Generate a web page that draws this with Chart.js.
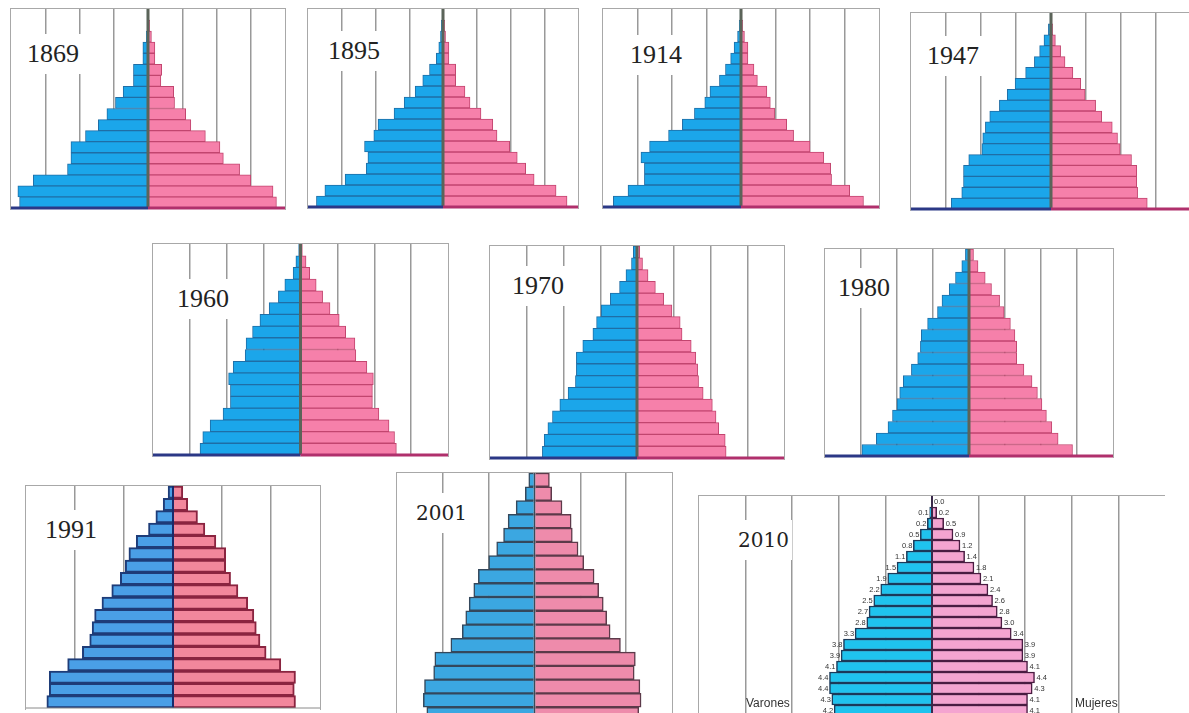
<!DOCTYPE html>
<html>
<head>
<meta charset="utf-8">
<script src="https://cdn.jsdelivr.net/npm/chart.js@4.4.1/dist/chart.umd.min.js"></script>
<style>
    html, body { margin: 0; padding: 0; background: #fff; }
    body { width: 1189px; height: 713px; overflow: hidden; position: relative; }
    .box { position: absolute; box-sizing: border-box; border: 1px solid #a8a8a8; border-bottom: none; }
    .box canvas { display: block; }
    .year { position: absolute; background: #fff; font-family: "Liberation Serif", serif; font-size: 26px;
            line-height: 24px; padding: 8px 3px; color: #222; }
    .year.wide { font-family: "DejaVu Serif", serif; font-size: 20px; }
    .sex { position: absolute; font-family: "Liberation Sans", Arial, sans-serif; font-size: 12px; color: #333; }
</style>
</head>
<body>
<script>
// grupos de edad, de menor a mayor
const ages = ['0-4', '5-9', '10-14', '15-19', '20-24', '25-29', '30-34', '35-39', '40-44',
    '45-49', '50-54', '55-59', '60-64', '65-69', '70-74', '75-79', '80-84', '85+'];
const ages2010 = ['5-9', '10-14', '15-19', '20-24', '25-29', '30-34', '35-39', '40-44', '45-49',
    '50-54', '55-59', '60-64', '65-69', '70-74', '75-79', '80-84', '85-89', '90-94', '95-99', '100+'];

// % de la poblacion por sexo
const m1869 = [7.5, 7.6, 6.7, 4.7, 4.5, 4.5, 3.65, 2.9, 2.4, 1.9, 1.45, 0.85, 0.85, 0.3, 0.3, 0.1, 0.05, 0.05];
const f1869 = [7.5, 7.3, 6.0, 5.35, 4.4, 4.2, 3.35, 2.5, 2.2, 1.55, 1.5, 0.75, 0.8, 0.4, 0.4, 0.2, 0.1, 0.05];
const m1895 = [7.5, 7.0, 5.8, 4.55, 4.45, 4.65, 4.1, 3.85, 2.9, 2.3, 1.65, 1.2, 0.8, 0.4, 0.25, 0.15, 0.1, 0.05];
const f1895 = [7.35, 6.7, 5.4, 4.9, 4.4, 3.95, 3.2, 2.95, 2.25, 1.6, 1.3, 0.75, 0.75, 0.35, 0.35, 0.15, 0.1, 0.05];
const m1914 = [7.4, 6.55, 5.6, 5.6, 5.8, 5.3, 4.2, 3.4, 2.7, 2.1, 1.8, 1.25, 0.9, 0.6, 0.4, 0.2, 0.1, 0.05];
const f1914 = [7.1, 6.3, 5.25, 5.2, 4.8, 4.0, 3.05, 2.65, 1.95, 1.7, 1.5, 0.95, 0.75, 0.4, 0.4, 0.2, 0.1, 0.05];
const m1947 = [5.7, 5.1, 5.0, 5.0, 4.7, 3.95, 3.9, 3.75, 3.5, 2.95, 2.5, 2.05, 1.45, 0.95, 0.65, 0.4, 0.15, 0.05];
const f1947 = [5.5, 4.95, 4.9, 4.9, 4.6, 3.95, 3.8, 3.5, 2.9, 2.55, 1.95, 1.7, 1.25, 0.8, 0.55, 0.25, 0.1, 0.05];
const m1960 = [5.45, 5.3, 4.9, 4.2, 3.8, 3.8, 3.9, 3.65, 3.0, 2.95, 2.6, 2.2, 1.7, 1.2, 0.85, 0.4, 0.25, 0.1];
const f1960 = [5.2, 5.1, 4.8, 4.25, 3.9, 3.9, 3.95, 3.6, 3.0, 2.95, 2.45, 2.1, 1.6, 1.2, 0.85, 0.5, 0.3, 0.1];
const m1970 = [5.15, 5.05, 4.85, 4.6, 4.2, 3.75, 3.35, 3.3, 3.3, 2.95, 2.4, 2.2, 1.95, 1.45, 0.95, 0.6, 0.3, 0.2];
const f1970 = [4.85, 4.8, 4.45, 4.3, 4.1, 3.6, 3.35, 3.3, 3.2, 2.95, 2.45, 2.35, 1.9, 1.45, 1.0, 0.6, 0.3, 0.15];
const m1980 = [5.95, 5.15, 4.5, 4.25, 4.0, 3.85, 3.65, 3.2, 2.85, 2.7, 2.65, 2.3, 1.75, 1.5, 1.1, 0.75, 0.4, 0.2];
const f1980 = [5.75, 4.95, 4.6, 4.3, 4.05, 3.8, 3.5, 3.05, 2.65, 2.65, 2.55, 2.3, 1.95, 1.7, 1.25, 0.9, 0.5, 0.25];
const m1991 = [5.15, 5.05, 5.05, 4.3, 3.7, 3.4, 3.3, 3.2, 2.9, 2.5, 2.15, 1.95, 1.8, 1.5, 1.0, 0.7, 0.4, 0.2];
const f1991 = [5.0, 4.95, 5.0, 4.4, 3.8, 3.55, 3.4, 3.3, 3.05, 2.65, 2.35, 2.15, 2.15, 1.75, 1.3, 1.0, 0.6, 0.4];
const m2001 = [4.7, 4.85, 4.8, 4.4, 4.35, 3.65, 3.15, 3.0, 2.85, 2.65, 2.45, 2.0, 1.65, 1.35, 1.15, 0.8, 0.4, 0.25];
const f2001 = [4.55, 4.65, 4.6, 4.35, 4.4, 3.75, 3.3, 3.15, 3.0, 2.8, 2.6, 2.15, 1.9, 1.65, 1.6, 1.2, 0.75, 0.65];
const m2010 = [4.2, 4.3, 4.4, 4.4, 4.1, 3.9, 3.8, 3.3, 2.8, 2.7, 2.5, 2.2, 1.9, 1.5, 1.1, 0.8, 0.5, 0.2, 0.1, 0.0];
const f2010 = [4.1, 4.1, 4.3, 4.4, 4.1, 3.9, 3.9, 3.4, 3.0, 2.8, 2.6, 2.4, 2.1, 1.8, 1.4, 1.2, 0.9, 0.5, 0.2, 0.0];

// estilos
const oldStyle = {
    blue: '#1ba6ea', blueEdge: '#1f6ea6', pink: '#f680aa', pinkEdge: '#c2456f', bw: 1,
    grid: '#999999', center: '#5b6459', cw: 3, baseL: '#2b3886', baseR: '#b0306c', baseW: 3
};
const st1991 = {
    blue: '#4a9fe6', blueEdge: '#1e3c78', pink: '#f2879c', pinkEdge: '#8a2440', bw: 2,
    grid: '#999999', center: '#1a2a6a', cw: 2, baseL: '#8a8a8a', baseR: '#8a8a8a', baseW: 1
};
const st2001 = {
    blue: '#3ba7e1', blueEdge: '#34485c', pink: '#ee8bab', pinkEdge: '#5c3a4a', bw: 1.5,
    grid: '#999999', center: '#3a4a5a', cw: 1.5, baseL: null
};
const st2010 = {
    blue: '#1fc3ee', blueEdge: '#1b3a5a', pink: '#f4a4d0', pinkEdge: '#4a1c42', bw: 1.5,
    grid: '#999999', center: '#3a2a4a', cw: 2, baseL: null, labels: true
};

const panels = [
    { year: '1869', labels: ages, m: m1869, f: f1869, range: 8, left: 10, top: 8, width: 276, bottom: 208, st: oldStyle, yl: 27, yc: 54 },
    { year: '1895', labels: ages, m: m1895, f: f1895, range: 8, left: 307, top: 8, width: 272, bottom: 207, st: oldStyle, yl: 328, yc: 51 },
    { year: '1914', labels: ages, m: m1914, f: f1914, range: 8, left: 602, top: 8, width: 278, bottom: 207, st: oldStyle, yl: 630, yc: 55 },
    { year: '1947', labels: ages, m: m1947, f: f1947, range: 8, left: 910, top: 12, width: 282, bottom: 209, st: oldStyle, yl: 927, yc: 56 },
    { year: '1960', labels: ages, m: m1960, f: f1960, range: 8, left: 152, top: 243, width: 297, bottom: 455, st: oldStyle, yl: 177, yc: 299 },
    { year: '1970', labels: ages, m: m1970, f: f1970, range: 8, left: 489, top: 245, width: 296, bottom: 458, st: oldStyle, yl: 512, yc: 286 },
    { year: '1980', labels: ages, m: m1980, f: f1980, range: 8, left: 824, top: 248, width: 290, bottom: 456, st: oldStyle, yl: 838, yc: 288 },
    { year: '1991', labels: ages, m: m1991, f: f1991, range: 6, left: 25, top: 485, width: 296, bottom: 708, st: st1991, yl: 45, yc: 530 },
    { year: '2001', labels: ages, m: m2001, f: f2001, range: 6, left: 396, top: 472, width: 277, bottom: 721, st: st2001, yl: 416, yc: 513, wide: true },
    { year: '2010', labels: ages2010, m: m2010, f: f2010, range: 10, left: 698, top: 495, width: 467, bottom: 716, st: st2010, yl: 738, yc: 540, wide: true, noRight: true }
];

// linea central, base y etiquetas de 2010
const pyramidLines = {
    id: 'pyramid',
    afterDatasetsDraw(chart, args, opts) {
        const ctx = chart.ctx;
        const a = chart.chartArea;
        const x0 = chart.scales.x.getPixelForValue(0);
        ctx.save();
        if (opts.labels) {
            ctx.font = '7.5px "Liberation Sans", Arial, sans-serif';
            ctx.fillStyle = '#333';
            ctx.textBaseline = 'middle';
            chart.data.datasets.forEach((ds, i) => {
                chart.getDatasetMeta(i).data.forEach((el, j) => {
                    const v = Math.abs(ds.data[j]);
                    if (i === 0) {
                        if (v === 0) return;
                        ctx.textAlign = 'right';
                        ctx.fillText(v.toFixed(1), el.x - 1, el.y);
                    } else {
                        ctx.textAlign = 'left';
                        ctx.fillText(v.toFixed(1), el.x + 2, el.y);
                    }
                });
            });
        }
        ctx.strokeStyle = opts.center;
        ctx.lineWidth = opts.cw;
        ctx.beginPath();
        ctx.moveTo(x0, a.top);
        ctx.lineTo(x0, a.bottom);
        ctx.stroke();
        if (opts.baseL) {
            ctx.lineWidth = opts.baseW;
            ctx.strokeStyle = opts.baseL;
            ctx.beginPath();
            ctx.moveTo(a.left, a.bottom);
            ctx.lineTo(x0, a.bottom);
            ctx.stroke();
            ctx.strokeStyle = opts.baseR;
            ctx.beginPath();
            ctx.moveTo(x0, a.bottom);
            ctx.lineTo(a.right, a.bottom);
            ctx.stroke();
        }
        ctx.restore();
    }
};

for (let p of panels) {
    const st = p.st;
    const height = p.bottom - p.top + 2;
    const box = document.createElement('div');
    box.className = 'box';
    box.style.left = p.left + 'px';
    box.style.top = p.top + 'px';
    box.style.width = p.width + 'px';
    box.style.height = height + 'px';
    if (p.noRight) box.style.borderRight = 'none';
    const canvas = document.createElement('canvas');
    const cw = p.width - (p.noRight ? 1 : 2);
    canvas.width = cw;
    canvas.height = height - 1;
    canvas.style.width = cw + 'px';
    canvas.style.height = (height - 1) + 'px';
    box.appendChild(canvas);
    document.body.appendChild(box);

    new Chart(canvas, {
        type: 'bar',
        data: {
            labels: p.labels,
            datasets: [{
                label: 'Varones',
                data: p.m.map(v => -v),
                backgroundColor: st.blue,
                borderColor: st.blueEdge,
                borderWidth: st.bw
            }, {
                label: 'Mujeres',
                data: p.f,
                backgroundColor: st.pink,
                borderColor: st.pinkEdge,
                borderWidth: st.bw
            }]
        },
        options: {
            indexAxis: 'y',
            responsive: false,
            animation: false,
            devicePixelRatio: 1,
            layout: { padding: { bottom: 2 } },
            datasets: { bar: { categoryPercentage: 1, barPercentage: 1 } },
            plugins: {
                legend: { display: false },
                tooltip: { enabled: false },
                pyramid: st
            },
            scales: {
                x: {
                    min: -p.range,
                    max: p.range,
                    stacked: true,
                    ticks: { display: false, stepSize: 2 },
                    border: { display: false },
                    grid: {
                        drawTicks: false,
                        lineWidth: 1.5,
                        color: (c) => (c.tick.value === 0 || Math.abs(c.tick.value) >= p.range) ? 'rgba(0,0,0,0)' : st.grid
                    }
                },
                y: { stacked: true, reverse: true, display: false }
            }
        },
        plugins: [pyramidLines]
    });

    const lab = document.createElement('div');
    lab.className = 'year' + (p.wide ? ' wide' : '');
    lab.textContent = p.year;
    lab.style.left = (p.yl - 3) + 'px';
    lab.style.top = (p.yc - 20) + 'px';
    document.body.appendChild(lab);
}

const v = document.createElement('div');
v.className = 'sex';
v.textContent = 'Varones';
v.style.left = '746px';
v.style.top = '696px';
document.body.appendChild(v);
const mu = document.createElement('div');
mu.className = 'sex';
mu.textContent = 'Mujeres';
mu.style.left = '1075px';
mu.style.top = '696px';
document.body.appendChild(mu);
</script>
</body>
</html>
